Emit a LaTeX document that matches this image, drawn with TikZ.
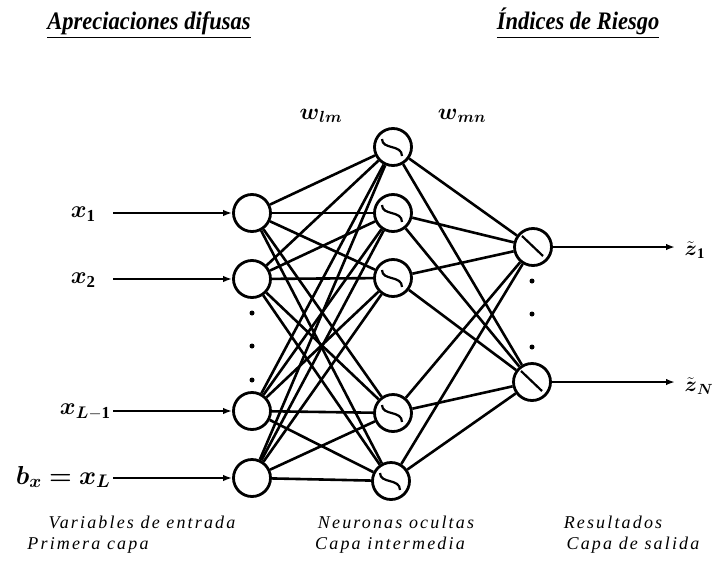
\RequirePackage{fix-cm}
\documentclass[tikz,border=0pt]{standalone}
\usepackage{fontspec}
\usepackage{amsmath,amsbsy}
\setmainfont{Liberation Serif}
\newfontfamily\tracked[LetterSpace=12]{Liberation Serif}
\usetikzlibrary{arrows.meta}
\begin{document}
\begin{tikzpicture}[x=1pt,y=-1pt,
  neuron/.style={circle, draw, line width=2.8pt, minimum size=37pt, inner sep=0pt},
  link/.style={line width=2.6pt},
  inarrow/.style={line width=2.2pt, -{Latex[length=9pt,width=6.5pt]}},
  glyph/.style={line width=2.2pt},
  dotmark/.style={circle, fill, inner sep=0pt, minimum size=5pt},
  toplabel/.style={font=\fontsize{22.5}{26}\selectfont\bfseries\itshape, anchor=base, yscale=1.12},
  botlabel/.style={font=\fontsize{18}{21}\selectfont\tracked\itshape},
  mathlabel/.style={font=\fontsize{24}{28}\selectfont},
  sig/.pic={\draw[glyph] (-11,-8) .. controls (-11,3) and (9,-3) .. (9,9);},
  lin/.pic={\draw[glyph] (-11,-11) -- (10,9);}
]
\useasboundingbox (0,0) rectangle (712,573);

% top labels
\node[toplabel] (ta) at (149,29) {\underline{Apreciaciones difusas}};
\node[toplabel] (tb) at (578,29) {\underline{Índices de Riesgo}};

% input neurons
\node[neuron] (i1) at (252,213) {};
\node[neuron] (i2) at (252,279) {};
\node[neuron] (i3) at (252,411) {};
\node[neuron] (i4) at (252,478) {};

% hidden neurons
\node[neuron] (h1) at (393,147) {};
\node[neuron] (h2) at (393,213) {};
\node[neuron] (h3) at (393,278) {};
\node[neuron] (h4) at (393,413) {};
\node[neuron] (h5) at (391,481) {};

% output neurons
\node[neuron] (o1) at (533,247) {};
\node[neuron] (o2) at (532,382) {};

% glyphs
\foreach \h in {h1,h2,h3,h4,h5} \pic at (\h) {sig};
\foreach \o in {o1,o2} \pic at (\o) {lin};

% connections
\foreach \i in {i1,i2,i3,i4}
  \foreach \h in {h1,h2,h3,h4,h5}
    \draw[link] (\i) -- (\h);
\foreach \h in {h1,h2,h3,h4,h5}
  \foreach \o in {o1,o2}
    \draw[link] (\h) -- (\o);

% dots
\node[dotmark] (d1) at (252,313) {};
\node[dotmark] (d2) at (252,346) {};
\node[dotmark] (d3) at (252,380) {};
\node[dotmark] (d4) at (532,281) {};
\node[dotmark] (d5) at (532,314) {};
\node[dotmark] (d6) at (532,347) {};

% input labels and arrows
\node[mathlabel, anchor=east] (lx1) at (99,214) {$\boldsymbol{x}_{\mathbf{1}}$};
\node[mathlabel, anchor=east] (lx2) at (99,280) {$\boldsymbol{x}_{\mathbf{2}}$};
\node[mathlabel, anchor=east] (lx3) at (114,412) {$\boldsymbol{x}_{\boldsymbol{L}\mathbf{-1}}$};
\node[mathlabel, anchor=east, font=\fontsize{26}{30}\selectfont] (lx4) at (114,477) {$\boldsymbol{b}_{\boldsymbol{x}}\boldsymbol{=}\boldsymbol{x}_{\boldsymbol{L}}$};
\coordinate (s1) at (113,213);
\coordinate (s2) at (113,279);
\coordinate (s3) at (113,411);
\coordinate (s4) at (113,478);
\draw[inarrow] (s1) -- (i1);
\draw[inarrow] (s2) -- (i2);
\draw[inarrow] (s3) -- (i3);
\draw[inarrow] (s4) -- (i4);

% output arrows and labels
\coordinate (e1) at (675,247);
\coordinate (e2) at (675,382);
\draw[inarrow] (o1) -- (e1);
\draw[inarrow] (o2) -- (e2);
\node[mathlabel, anchor=west, font=\fontsize{21}{25}\selectfont] (lz1) at (681,250) {$\tilde{\boldsymbol{z}}_{\mathbf{1}}$};
\node[mathlabel, anchor=west, font=\fontsize{21}{25}\selectfont] (lz2) at (681,386) {$\tilde{\boldsymbol{z}}_{\boldsymbol{N}}$};

% weight labels
\node[mathlabel, font=\fontsize{23}{27}\selectfont] (wlm) at (321,116) {$\boldsymbol{w}_{\boldsymbol{lm}}$};
\node[mathlabel, font=\fontsize{23}{27}\selectfont] (wmn) at (462,116) {$\boldsymbol{w}_{\boldsymbol{mn}}$};

% bottom labels
\node[botlabel] (b1) at (142,522) {Variables de entrada};
\node[botlabel] (b2) at (88,545) {Primera capa};
\node[botlabel] (b3) at (396,522) {Neuronas ocultas};
\node[botlabel] (b4) at (390,545) {Capa intermedia};
\node[botlabel] (b5) at (613,522) {Resultados};
\node[botlabel] (b6) at (633,545) {Capa de salida};
\end{tikzpicture}
\end{document}
